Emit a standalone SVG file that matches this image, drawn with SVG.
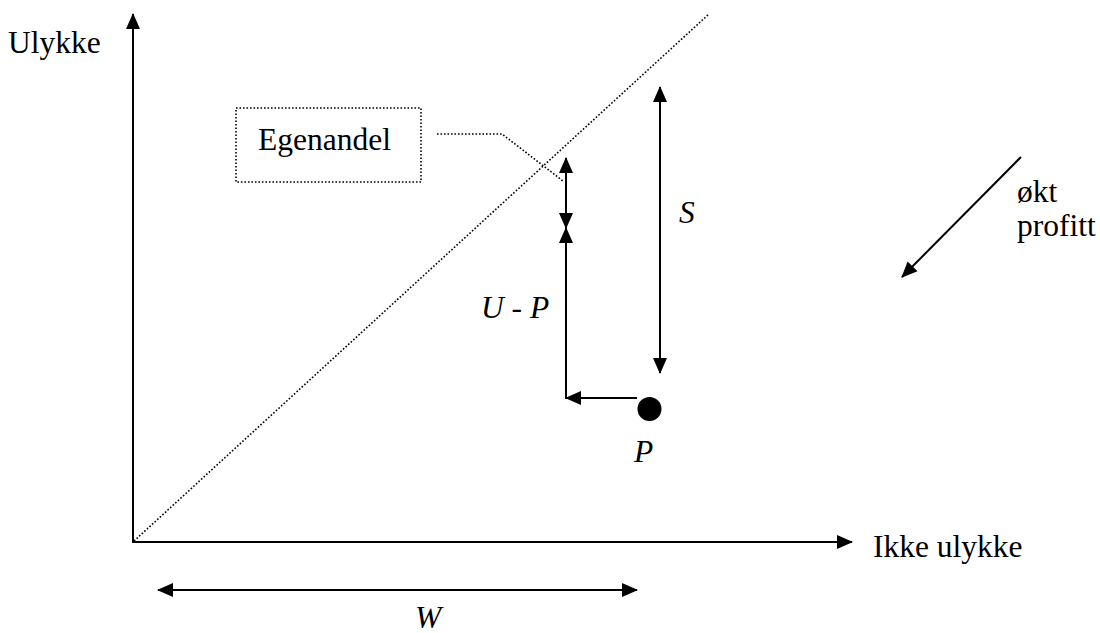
<svg xmlns="http://www.w3.org/2000/svg" width="1100" height="633" viewBox="0 0 1100 633">
<defs>
<marker id="ah" markerUnits="userSpaceOnUse" markerWidth="16" markerHeight="16" viewBox="0 0 16 16" refX="15" refY="8" orient="auto-start-reverse">
<path d="M0,1 L16,8 L0,15 Z" fill="#000"/>
</marker>
</defs>
<style>
text{font-family:'Liberation Serif','Times New Roman',serif;font-size:31.5px;fill:#000}
.i{font-style:italic}
.ln{stroke:#000;stroke-width:2;fill:none}
.dot{stroke:#000;stroke-width:1.6;stroke-dasharray:1.6 1.9;fill:none}
</style>
<rect width="1100" height="633" fill="#fff"/>
<g id="connectors">
<line class="ln" x1="133" y1="543" x2="133" y2="14" marker-end="url(#ah)"/>
<line class="ln" x1="132" y1="542" x2="852" y2="542" marker-end="url(#ah)"/>
<line class="dot" x1="134" y1="541" x2="709" y2="14"/>
<polyline class="dot" points="437,134 502,134 563,181"/>
<line class="ln" x1="566" y1="158" x2="566" y2="228" marker-start="url(#ah)" marker-end="url(#ah)"/>
<polyline class="ln" points="637,398 566,398 566,228" marker-end="url(#ah)"/>
<polyline class="ln" points="637,398 566,398" marker-end="url(#ah)"/>
<line class="ln" x1="660" y1="87" x2="660" y2="373" marker-start="url(#ah)" marker-end="url(#ah)"/>
<line class="ln" x1="158" y1="590" x2="637" y2="590" marker-start="url(#ah)" marker-end="url(#ah)"/>
<line class="ln" x1="1021" y1="157" x2="902" y2="277" marker-end="url(#ah)"/>
</g>
<g id="point"><circle cx="649.5" cy="409" r="12" fill="#000"/></g>
<g id="egenandel">
<rect class="dot" x="236" y="108" width="185" height="74"/>
<text x="258" y="150">Egenandel</text>
</g>
<g id="labels">
<text x="8" y="53">Ulykke</text>
<text x="873" y="557">Ikke ulykke</text>
<text class="i" x="679" y="223">S</text>
<text class="i" x="481" y="318">U - P</text>
<text class="i" x="634" y="462">P</text>
<text class="i" x="415" y="628">W</text>
<text x="1017" y="202">økt</text>
<text x="1017" y="236">profitt</text>
</g>
</svg>
